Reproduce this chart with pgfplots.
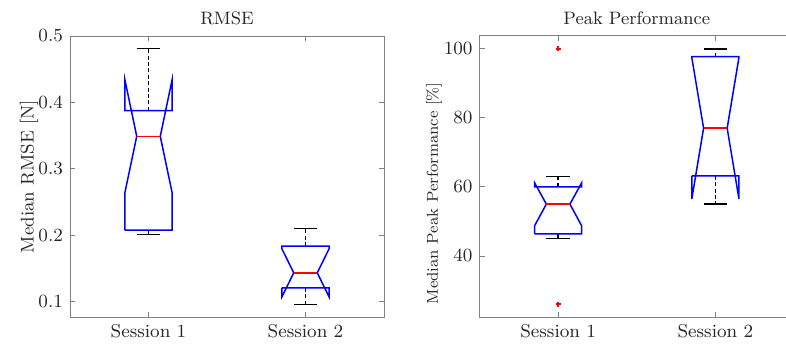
\documentclass[border=0pt]{standalone}
\usepackage{pgfplots}
\pgfplotsset{compat=1.18}
\definecolor{axgray}{gray}{0.5}
\definecolor{txtgray}{gray}{0.15}
\definecolor{mblue}{rgb}{0,0,1}
\definecolor{mred}{rgb}{1,0,0}
\pgfplotsset{
  mlbox/.style={
    width=157pt, height=140.5pt, scale only axis,
    anchor=south west,
    xmin=0.5, xmax=2.5,
    xtick={1,2}, xticklabels={Session 1,Session 2},
    tick align=inside, major tick length=2.5pt,
    axis line style={axgray, line width=0.5pt},
    tick style={axgray, line width=0.4pt},
    ticklabel style={font=\fontsize{9.3}{11}\selectfont, text=txtgray},
    title style={font=\fontsize{9}{11}\selectfont, text=txtgray, yshift=-4pt},
    ylabel style={font=\fontsize{9.2}{11}\selectfont, text=txtgray, anchor=center},
    clip=false,
  },
  boxline/.style={mblue, line width=0.75pt, no marks},
  medline/.style={mred, line width=0.75pt, no marks},
  whisk/.style={black, line width=0.8pt, dash pattern=on 2pt off 1.2pt, no marks},
  capline/.style={black, line width=0.8pt, no marks},
}
\begin{document}
\begin{tikzpicture}
% ---------------- RMSE ----------------
\begin{axis}[mlbox, at={(35pt,14pt)},
  ymin=0.077, ymax=0.5,
  ytick={0.1,0.2,0.3,0.4,0.5}, yticklabels={0.1,0.2,0.3,0.4,0.5},
  title={RMSE},
  ylabel={Median RMSE [N]},
  ylabel style={at={(axis description cs:-0.1306,0.5)}},
]
% Session 1 whiskers
\addplot[whisk] coordinates {(1,0.3875) (1,0.481)};
\addplot[capline] coordinates {(0.925,0.481) (1.075,0.481)};
\addplot[whisk] coordinates {(1,0.2078) (1,0.2014)};
\addplot[capline] coordinates {(0.925,0.2014) (1.075,0.2014)};
% Session 1 box
\addplot[boxline] coordinates {(0.85,0.2078) (0.85,0.2646) (0.925,0.349) (0.85,0.4337) (0.85,0.3875) (1.15,0.3875) (1.15,0.4337) (1.075,0.349) (1.15,0.2646) (1.15,0.2078) (0.85,0.2078)};
\addplot[medline] coordinates {(0.925,0.349) (1.075,0.349)};
% Session 2 whiskers
\addplot[whisk] coordinates {(2,0.1837) (2,0.21)};
\addplot[capline] coordinates {(1.925,0.21) (2.075,0.21)};
\addplot[whisk] coordinates {(2,0.121) (2,0.096)};
\addplot[capline] coordinates {(1.925,0.096) (2.075,0.096)};
% Session 2 box
\addplot[boxline] coordinates {(1.85,0.121) (1.85,0.1074) (1.925,0.1435) (1.85,0.1796) (1.85,0.1837) (2.15,0.1837) (2.15,0.1796) (2.075,0.1435) (2.15,0.1074) (2.15,0.121) (1.85,0.121)};
\addplot[medline] coordinates {(1.925,0.1435) (2.075,0.1435)};
\end{axis}
% ---------------- Peak Performance ----------------
\begin{axis}[mlbox, at={(239.75pt,14pt)}, width=157.25pt,
  ymin=22.3, ymax=103.7,
  ytick={40,60,80,100}, yticklabels={40,60,80,100},
  title={Peak Performance},
  ylabel={Median Peak Performance [\%]},
  ylabel style={font=\fontsize{7.9}{10}\selectfont, at={(axis description cs:-0.145,0.44)}},
]
% Session 1 whiskers
\addplot[whisk] coordinates {(1,60) (1,63)};
\addplot[capline] coordinates {(0.925,63) (1.075,63)};
\addplot[whisk] coordinates {(1,46.4) (1,45)};
\addplot[capline] coordinates {(0.925,45) (1.075,45)};
% Session 1 box
\addplot[boxline] coordinates {(0.85,46.4) (0.85,48.7) (0.925,55) (0.85,61.2) (0.85,60) (1.15,60) (1.15,61.2) (1.075,55) (1.15,48.7) (1.15,46.4) (0.85,46.4)};
\addplot[medline] coordinates {(0.925,55) (1.075,55)};
% Session 1 outliers
\addplot[only marks, mark=+, mred, mark size=1.2pt, line width=0.8pt] coordinates {(1,100) (1,26)};
% Session 2 whiskers
\addplot[whisk] coordinates {(2,97.7) (2,100)};
\addplot[capline] coordinates {(1.925,100) (2.075,100)};
\addplot[whisk] coordinates {(2,63.2) (2,55)};
\addplot[capline] coordinates {(1.925,55) (2.075,55)};
% Session 2 box
\addplot[boxline] coordinates {(1.85,63.2) (1.85,56.5) (1.925,77) (1.85,97.5) (1.85,97.7) (2.15,97.7) (2.15,97.5) (2.075,77) (2.15,56.5) (2.15,63.2) (1.85,63.2)};
\addplot[medline] coordinates {(1.925,77) (2.075,77)};
\end{axis}
\pgfresetboundingbox
\path[use as bounding box] (0,0) rectangle (393pt,172.5pt);
\end{tikzpicture}
\end{document}
